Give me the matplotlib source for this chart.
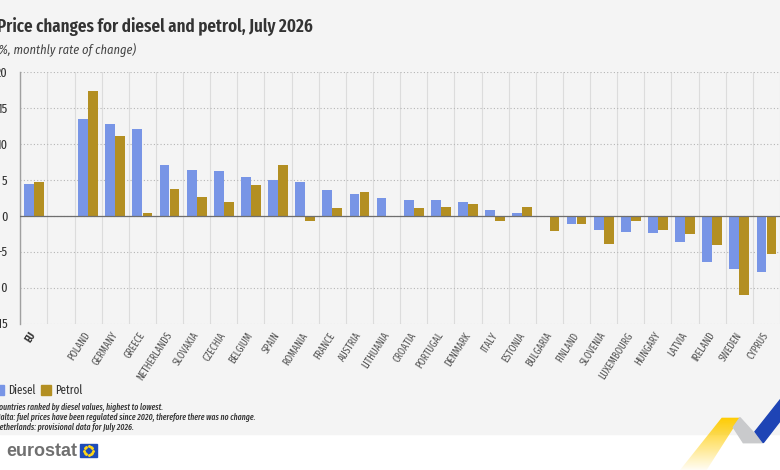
import matplotlib
matplotlib.use("Agg")
import matplotlib.pyplot as plt
import matplotlib.transforms as mtransforms
from matplotlib.patches import Rectangle, Polygon
import numpy as np

countries = ["EU", "", "POLAND", "GERMANY", "GREECE", "NETHERLANDS", "SLOVAKIA",
             "CZECHIA", "BELGIUM", "SPAIN", "ROMANIA", "FRANCE", "AUSTRIA",
             "LITHUANIA", "CROATIA", "PORTUGAL", "DENMARK", "ITALY", "ESTONIA",
             "BULGARIA", "FINLAND", "SLOVENIA", "LUXEMBOURG", "HUNGARY", "LATVIA",
             "IRELAND", "SWEDEN", "CYPRUS"]
diesel = [4.4, np.nan, 13.4, 12.7, 12.1, 7.1, 6.4, 6.2, 5.4, 5.0, 4.6, 3.5, 3.05,
          2.4, 2.2, 2.1, 1.9, 0.75, 0.4, -0.25, -1.2, -1.95, -2.3, -2.4, -3.7,
          -6.4, -7.4, -7.9]
petrol = [4.7, np.nan, 17.3, 11.0, 0.3, 3.7, 2.6, 1.9, 4.2, 7.1, -0.8, 1.1, 3.3,
          -0.1, 1.0, 1.15, 1.6, -0.8, 1.25, -2.1, -1.2, -4.0, -0.7, -2.0, -2.5,
          -4.1, -11.1, -5.3]
y_ticks = [-15, -10, -5, 0, 5, 10, 15, 20]

title = "Price changes for diesel and petrol, July 2026"
subtitle = "(%, monthly rate of change)"
notes = [
    "Countries ranked by diesel values, highest to lowest.",
    "Malta: fuel prices have been regulated since 2020, therefore there was no change.",
    "Netherlands: provisional data for July 2026.",
]

DIESEL = "#7895E6"
PETROL = "#B38F22"
BG = "#F4F4F4"
TEXT = "#333333"
COND = ["Fira Sans Condensed", "DejaVu Sans"]
XCOND = ["Fira Sans Extra Condensed", "Fira Sans Condensed", "DejaVu Sans"]

W, H = 780, 470
fig = plt.figure(figsize=(W / 100, H / 100), dpi=100, facecolor="white")

# background layer in pixel coordinates
bg = fig.add_axes([0, 0, 1, 1])
bg.set_xlim(0, W)
bg.set_ylim(H, 0)
bg.axis("off")
bg.set_zorder(-1)
bg.add_patch(Rectangle((0, 0), W, 434, color=BG, zorder=0))

# main chart
left_px, right_px, top_px, bottom_px = 20.3, W, 71.7, 323.5
cat_w = 27.42
ax = fig.add_axes([left_px / W, (H - bottom_px) / H,
                   (right_px - left_px) / W, (bottom_px - top_px) / H])
ax.patch.set_alpha(0)
n = len(countries)
x = np.arange(n)
bw = 0.36
ax.bar(x - 0.185, diesel, width=bw, color=DIESEL, zorder=3, label="Diesel")
ax.bar(x + 0.185, petrol, width=bw, color=PETROL, zorder=3, label="Petrol")
ax.axhline(0, color="#6e6e6e", lw=0.9, zorder=4)

ax.set_xlim(-0.5, -0.5 + (right_px - left_px) / cat_w)
ax.set_ylim(-15, 20)
ax.set_yticks(y_ticks)
ax.set_yticklabels([str(v) for v in y_ticks], fontsize=9.5, color=TEXT, family=XCOND)
ax.grid(axis="y", linestyle=(0, (1, 2)), color="#b5b5b5", lw=0.8, zorder=1)
ax.set_xticks(np.arange(-0.5, n, 1), minor=True)
ax.grid(axis="x", which="minor", color="#dcdcdc", lw=0.8, zorder=1)
ax.set_xticks(x)
ax.set_xticklabels(countries, rotation=57, ha="right", va="center",
                   rotation_mode="anchor", fontsize=7.5, color="#555555", family=XCOND)
ax.get_xticklabels()[0].set_fontweight("bold")
ax.get_xticklabels()[0].set_color(TEXT)
shift = mtransforms.ScaledTranslation(5 / 100, 0, fig.dpi_scale_trans)
for lbl in ax.get_xticklabels():
    lbl.set_transform(lbl.get_transform() + shift)
ax.tick_params(axis="both", which="both", length=0)
ax.tick_params(axis="x", pad=7)
ax.tick_params(axis="y", pad=9)
for s in ["top", "right", "bottom"]:
    ax.spines[s].set_visible(False)
ax.spines["left"].set_color("#a0a0a0")
ax.spines["left"].set_linewidth(1.0)

# titles
bg.text(-3, 27, title, fontsize=13.3, fontweight="semibold", color=TEXT, family=XCOND,
        va="center", ha="left")
bg.text(-5, 50, subtitle, fontsize=9.0, style="italic", color="#444444", family=COND,
        va="center", ha="left")

# legend
bg.add_patch(Rectangle((-6, 385), 10, 10, color=DIESEL))
bg.text(8, 390, "Diesel", fontsize=8.6, color=TEXT, family=XCOND, va="center")
bg.add_patch(Rectangle((41, 385), 10, 10, color=PETROL))
bg.text(55, 390, "Petrol", fontsize=8.6, color=TEXT, family=XCOND, va="center")

# footnotes
for i, line in enumerate(notes):
    bg.text(-5, 407 + 10 * i, line, fontsize=6.1, style="italic", color=TEXT,
            fontweight="medium", family=XCOND, va="center")

# eurostat logo
bg.text(6, 451, "eurostat", fontsize=13, fontweight="bold", color="#707070",
        family=["Liberation Sans", "DejaVu Sans"], va="center")
bg.add_patch(Rectangle((80, 444), 17, 13, color="#1F4CB8"))
ang = np.linspace(0, 2 * np.pi, 12, endpoint=False)
bg.scatter(88.5 + 4.2 * np.cos(ang), 450.5 + 4.2 * np.sin(ang), s=1.2,
           color="#FFD617", zorder=3)

# ribbon decoration
yellow = Polygon([(680, 470), (706.7, 470), (740, 417.7), (721.7, 417.7)],
                 closed=True, facecolor="none", edgecolor="none")
bg.add_patch(yellow)
grad = np.ones((50, 1, 4))
grad[..., :3] = np.array([255, 204, 0]) / 255
grad[:, 0, 3] = np.linspace(1, 0.05, 50)
im = bg.imshow(grad, extent=(680, 741, 470, 417), aspect="auto", zorder=2)
im.set_clip_path(yellow)
bg.set_xlim(0, W)
bg.set_ylim(H, 0)
bg.add_patch(Polygon([(740, 417.7), (733.3, 427.3), (743.3, 442.7), (762.7, 442.7)],
                     closed=True, color="#C9CACC", zorder=2))
bg.add_patch(Polygon([(755, 431.7), (782, 397.5), (782, 418.5), (763.3, 442.7)],
                     closed=True, color="#1E44B5", zorder=2))

fig.savefig("out.png", dpi=100, facecolor="white")
